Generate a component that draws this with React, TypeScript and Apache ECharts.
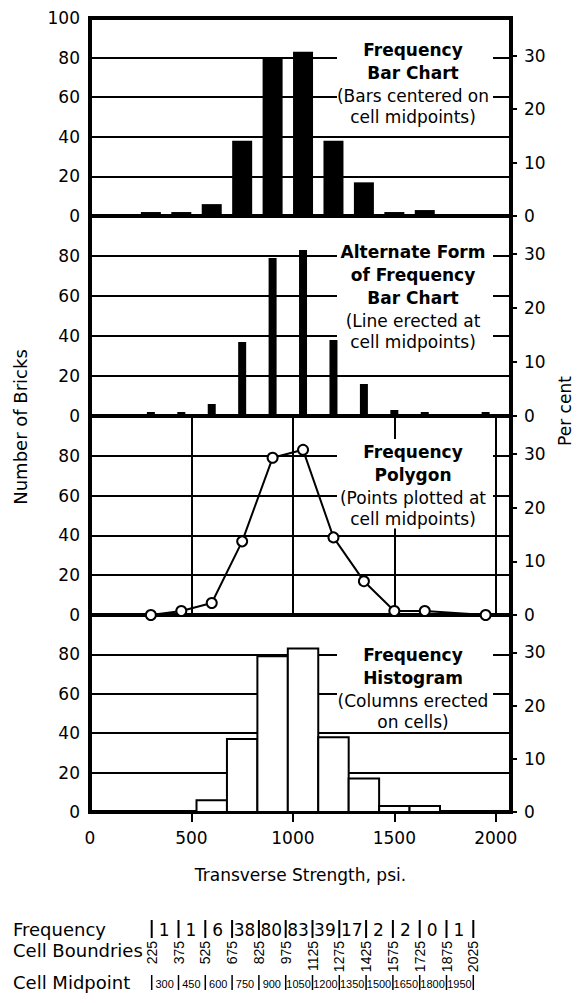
import React, { useEffect, useRef } from "react";
import * as echarts from "echarts";

// ---------- data ----------
const midpoints = [300, 450, 600, 750, 900, 1050, 1200, 1350, 1500, 1650, 1800, 1950];
const barChartCounts = [2, 2, 6, 38, 80, 83, 38, 17, 2, 3, null, null];
const lineBarCounts = [2, 2, 6, 37, 79, 83, 38, 16, 3, 2, 0, 2];
const polygonX = [300, 450, 600, 750, 900, 1050, 1200, 1350, 1500, 1650, 1950];
const polygonCounts = [0, 2, 6, 37, 79, 83, 39, 17, 2, 2, 0];
const histLower = [525, 675, 825, 975, 1125, 1275, 1425, 1575];
const histUpper = [675, 825, 975, 1125, 1275, 1425, 1575, 1725];
const histCounts = [6, 37, 79, 83, 38, 17, 3, 3];

const countTicks = [0, 20, 40, 60, 80, 100];
const percentTicks = [0, 10, 20, 30];
const strengthTicks = [0, 500, 1000, 1500, 2000];
const strengthTickMarks = [500, 1000, 1500, 2000];
const totalBricks = 270;

const cellBoundaries = [225, 375, 525, 675, 825, 975, 1125, 1275, 1425, 1575, 1725, 1875, 2025];
const cellFrequencies = [1, 1, 6, 38, 80, 83, 39, 17, 2, 2, 0, 1];
const cellMidpoints = [300, 450, 600, 750, 900, 1050, 1200, 1350, 1500, 1650, 1800, 1950];

const panelTitles = [
  ["Frequency", "Bar Chart"],
  ["Alternate Form", "of Frequency", "Bar Chart"],
  ["Frequency", "Polygon"],
  ["Frequency", "Histogram"],
];
const panelNotes = [
  ["(Bars centered on", "cell midpoints)"],
  ["(Line erected at", "cell midpoints)"],
  ["(Points plotted at", "cell midpoints)"],
  ["(Columns erected", "on cells)"],
];
const xAxisTitle = "Transverse Strength, psi.";
const yAxisTitle = "Number of Bricks";
const y2AxisTitle = "Per cent";
const rowLabels = ["Frequency", "Cell Boundries", "Cell Midpoint"];

// ---------- layout ----------
const FONT = "DejaVu Sans";
const PLOT_LEFT = 90;
const PLOT_RIGHT = 511;
const PANEL_TOPS = [18, 216, 416, 615];
const PANEL_BOTTOMS = [216, 416, 615, 812];
const X_MAX = 2075;
const TITLE_Y0 = [50, 252, 452, 655];
const TEXT_X = 413;

function txt(x: number, y: number, text: string, o: any = {}) {
  const align = o.align || "center";
  const valign = o.valign || "middle";
  return {
    type: "text",
    x,
    y,
    z: 20,
    rotation: o.rotation || 0,
    style: {
      text,
      fill: "#000",
      fontFamily: o.family || FONT,
      fontSize: o.size || 17,
      fontWeight: o.bold ? "bold" : "normal",
      align,
      verticalAlign: valign,
      textAlign: align,
      textVerticalAlign: valign,
    },
  };
}
function seg(x1: number, y1: number, x2: number, y2: number, w: number) {
  return {
    type: "line",
    z: 20,
    shape: { x1, y1, x2, y2 },
    style: { stroke: "#000", lineWidth: w },
  };
}

function buildGraphic() {
  const els: any[] = [];
  panelTitles.forEach((titles, i) => {
    const y0 = TITLE_Y0[i];
    const lines: { t: string; bold: boolean; y: number }[] = [];
    let y = y0;
    titles.forEach((t) => {
      lines.push({ t, bold: true, y });
      y += 23;
    });
    panelNotes[i].forEach((t) => {
      lines.push({ t, bold: false, y });
      y += 20.5;
    });
    const last = lines[lines.length - 1].y;
    els.push({
      type: "rect",
      z: 3,
      shape: { x: 337, y: y0 - 13, width: 156, height: last + 10 - (y0 - 13) },
      style: { fill: "#fff" },
    });
    lines.forEach((l) => els.push(txt(TEXT_X, l.y, l.t, { bold: l.bold, size: 17 })));
  });

  els.push(txt(20, 427, yAxisTitle, { size: 18, rotation: Math.PI / 2 }));
  els.push(txt(565, 411, y2AxisTitle, { size: 17, rotation: Math.PI / 2 }));

  // table below the chart
  els.push(txt(13, 929, rowLabels[0], { size: 18, align: "left" }));
  els.push(txt(13, 950, rowLabels[1], { size: 18, align: "left" }));
  els.push(txt(13, 982, rowLabels[2], { size: 18, align: "left" }));

  const tableLeft = 151.7;
  const tableStep = (473.3 - 151.7) / (cellBoundaries.length - 1);
  cellBoundaries.forEach((b, i) => {
    const x = tableLeft + i * tableStep;
    els.push(seg(x, 920, x, 938, 2));
    els.push(
      txt(x, 941, String(b), {
        size: 14,
        family: "Liberation Sans",
        align: "right",
        rotation: Math.PI / 2,
      })
    );
    els.push(seg(x, 975, x, 990, 1.5));
  });
  cellFrequencies.forEach((f, i) => {
    els.push(txt(tableLeft + (i + 0.5) * tableStep - 1, 930, String(f), { size: 17 }));
  });
  cellMidpoints.forEach((m, i) => {
    els.push(
      txt(tableLeft + (i + 0.5) * tableStep - 0.5, 984, String(m), {
        size: 11,
        family: "Liberation Sans",
      })
    );
  });
  return els;
}

function buildOption() {
  const grids = PANEL_TOPS.map((top, i) => ({
    left: PLOT_LEFT,
    width: PLOT_RIGHT - PLOT_LEFT,
    top,
    height: PANEL_BOTTOMS[i] - top,
    show: true,
    borderColor: "#000",
    borderWidth: 4,
    backgroundColor: "transparent",
    containLabel: false,
    outerBoundsMode: "none",
  }));

  const xAxes = PANEL_TOPS.map((_, i) => ({
    type: "value",
    gridIndex: i,
    min: 0,
    max: X_MAX,
    interval: 500,
    axisLine: { show: false },
    axisTick:
      i === 3
        ? { show: true, inside: false, length: 10, customValues: strengthTickMarks, lineStyle: { color: "#000", width: 2 } }
        : { show: false },
    axisLabel:
      i === 3
        ? {
            show: true,
            customValues: strengthTicks,
            color: "#000",
            fontSize: 17,
            fontFamily: FONT,
            margin: 17,
            formatter: (v: number) => String(v),
          }
        : { show: false },
    splitLine: i === 2 ? { show: true, lineStyle: { color: "#000", width: 2 } } : { show: false },
    name: i === 3 ? xAxisTitle : "",
    nameLocation: "middle",
    nameGap: 54,
    nameTextStyle: { color: "#000", fontSize: 17, fontFamily: FONT },
  }));

  const yAxes: any[] = [];
  PANEL_TOPS.forEach((_, i) => {
    yAxes.push({
      type: "value",
      gridIndex: i,
      position: "left",
      min: countTicks[0],
      max: countTicks[countTicks.length - 1],
      interval: 20,
      axisLine: { show: false },
      axisTick: { show: false },
      axisLabel: {
        color: "#000",
        fontSize: 17,
        fontFamily: FONT,
        margin: 10,
        showMaxLabel: i === 0,
      },
      splitLine: { show: true, lineStyle: { color: "#000", width: 2 } },
    });
    yAxes.push({
      type: "value",
      gridIndex: i,
      position: "right",
      min: 0,
      max: (100 * 100) / totalBricks,
      interval: 10,
      axisLine: { show: false },
      axisTick: {
        show: true,
        inside: false,
        length: 6,
        customValues: percentTicks,
        lineStyle: { color: "#000", width: 2 },
      },
      axisLabel: {
        customValues: percentTicks,
        color: "#000",
        fontSize: 17,
        fontFamily: FONT,
        margin: 13,
      },
      splitLine: { show: false },
    });
  });

  const series: any[] = [
    {
      type: "bar",
      xAxisIndex: 0,
      yAxisIndex: 0,
      barWidth: 20,
      z: 5,
      itemStyle: { color: "#000" },
      data: midpoints
        .map((m, k) => [m, barChartCounts[k]])
        .filter((d) => d[1] !== null),
    },
    {
      type: "bar",
      xAxisIndex: 1,
      yAxisIndex: 2,
      barWidth: 8,
      z: 5,
      itemStyle: { color: "#000" },
      data: midpoints.map((m, k) => [m, lineBarCounts[k]]),
    },
    {
      type: "line",
      xAxisIndex: 2,
      yAxisIndex: 4,
      z: 5,
      symbol: "circle",
      symbolSize: 10,
      lineStyle: { color: "#000", width: 2 },
      itemStyle: { color: "#fff", borderColor: "#000", borderWidth: 2 },
      data: polygonX.map((x, k) => [x, polygonCounts[k]]),
    },
    {
      type: "custom",
      xAxisIndex: 3,
      yAxisIndex: 6,
      z: 5,
      encode: { x: [0, 1], y: 2 },
      data: histLower.map((lo, k) => [lo, histUpper[k], histCounts[k]]),
      renderItem: (params: any, api: any) => {
        const p0 = api.coord([api.value(0), api.value(2)]);
        const p1 = api.coord([api.value(1), 0]);
        return {
          type: "rect",
          shape: { x: p0[0], y: p0[1], width: p1[0] - p0[0], height: p1[1] - p0[1] },
          style: { fill: "#fff", stroke: "#000", lineWidth: 2 },
        };
      },
    },
  ];

  return {
    animation: false,
    backgroundColor: "#fff",
    textStyle: { fontFamily: FONT, color: "#000" },
    grid: grids,
    xAxis: xAxes,
    yAxis: yAxes,
    series,
    graphic: { elements: buildGraphic() },
  };
}

export default function App() {
  const ref = useRef<HTMLDivElement>(null);
  useEffect(() => {
    document.body.style.margin = "0";
    const chart = echarts.init(ref.current as HTMLDivElement, null, { renderer: "svg" });
    chart.setOption(buildOption() as any);
    return () => chart.dispose();
  }, []);
  return <div ref={ref} style={{ width: 577, height: 1003, background: "#fff" }} />;
}
